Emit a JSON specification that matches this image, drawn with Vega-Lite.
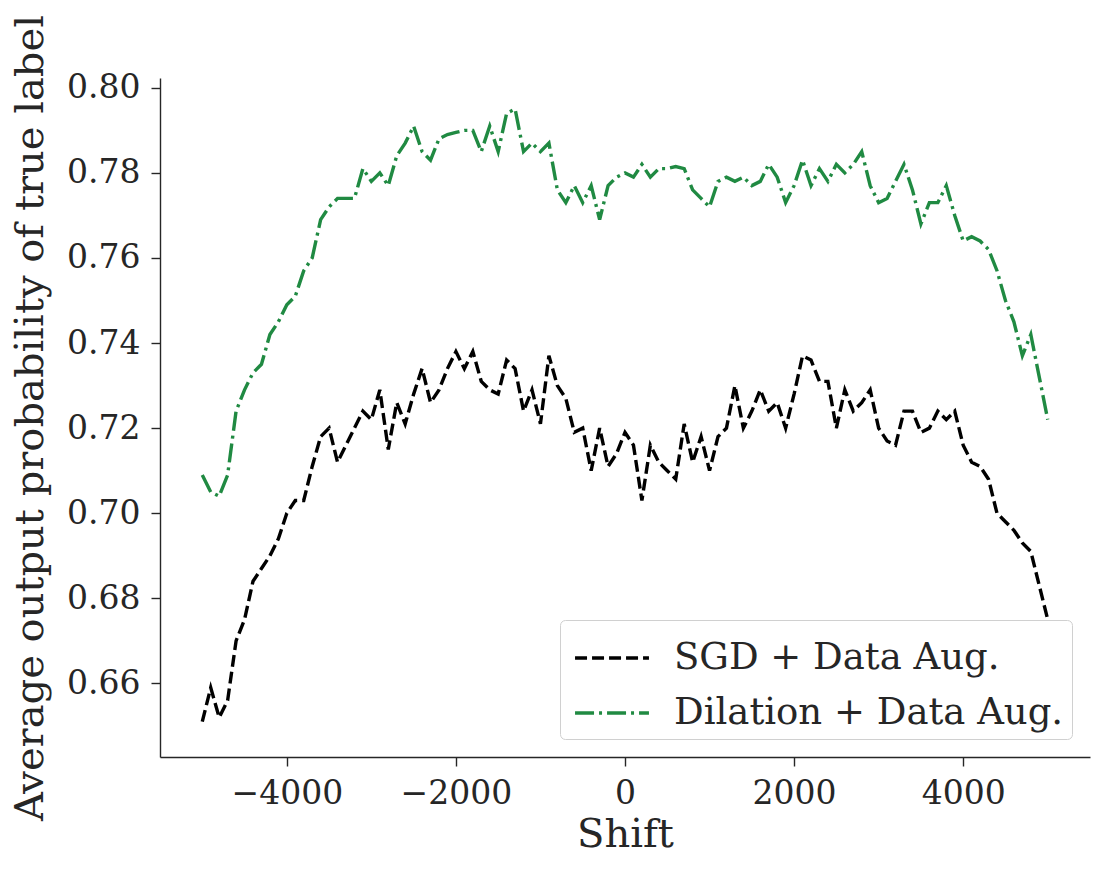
{
  "$schema": "https://vega.github.io/schema/vega-lite/v6.json",
  "width": 930,
  "height": 679,
  "autosize": "none",
  "padding": {"left": 160, "top": 78, "right": 15, "bottom": 114},
  "background": "white",
  "config": {
    "font": "DejaVu Serif",
    "view": {"stroke": null},
    "axis": {
      "grid": false,
      "domainColor": "#262626",
      "domainWidth": 1.4,
      "tickColor": "#262626",
      "tickWidth": 1.4,
      "tickSize": 9,
      "labelFontSize": 33,
      "labelColor": "#262626",
      "labelPadding": 11,
      "titleFontSize": 40,
      "titleFontWeight": "normal",
      "titleColor": "#262626"
    },
    "legend": {
      "orient": "bottom-right",
      "offset": 18,
      "fillColor": "white",
      "strokeColor": "#d0d0d0",
      "cornerRadius": 5,
      "padding": 8,
      "labelFontSize": 37,
      "labelColor": "#262626",
      "labelLimit": 0,
      "labelOffset": 46,
      "symbolType": "M-0.82,0H1.82",
      "symbolStrokeWidth": 3.4,
      "symbolSize": 3136,
      "rowPadding": 7
    }
  },
  "data": {
    "values": [
      {"x": -5000, "m": "SGD + Data Aug.", "y": 0.651},
      {"x": -4900, "m": "SGD + Data Aug.", "y": 0.659},
      {"x": -4800, "m": "SGD + Data Aug.", "y": 0.652},
      {"x": -4700, "m": "SGD + Data Aug.", "y": 0.656},
      {"x": -4600, "m": "SGD + Data Aug.", "y": 0.670},
      {"x": -4500, "m": "SGD + Data Aug.", "y": 0.675},
      {"x": -4400, "m": "SGD + Data Aug.", "y": 0.684},
      {"x": -4300, "m": "SGD + Data Aug.", "y": 0.687},
      {"x": -4200, "m": "SGD + Data Aug.", "y": 0.690},
      {"x": -4100, "m": "SGD + Data Aug.", "y": 0.694},
      {"x": -4000, "m": "SGD + Data Aug.", "y": 0.700},
      {"x": -3900, "m": "SGD + Data Aug.", "y": 0.703},
      {"x": -3800, "m": "SGD + Data Aug.", "y": 0.703},
      {"x": -3700, "m": "SGD + Data Aug.", "y": 0.711},
      {"x": -3600, "m": "SGD + Data Aug.", "y": 0.718},
      {"x": -3500, "m": "SGD + Data Aug.", "y": 0.720},
      {"x": -3400, "m": "SGD + Data Aug.", "y": 0.712},
      {"x": -3300, "m": "SGD + Data Aug.", "y": 0.716},
      {"x": -3200, "m": "SGD + Data Aug.", "y": 0.720},
      {"x": -3100, "m": "SGD + Data Aug.", "y": 0.724},
      {"x": -3000, "m": "SGD + Data Aug.", "y": 0.722},
      {"x": -2900, "m": "SGD + Data Aug.", "y": 0.729},
      {"x": -2800, "m": "SGD + Data Aug.", "y": 0.715},
      {"x": -2700, "m": "SGD + Data Aug.", "y": 0.726},
      {"x": -2600, "m": "SGD + Data Aug.", "y": 0.721},
      {"x": -2500, "m": "SGD + Data Aug.", "y": 0.728},
      {"x": -2400, "m": "SGD + Data Aug.", "y": 0.734},
      {"x": -2300, "m": "SGD + Data Aug.", "y": 0.726},
      {"x": -2200, "m": "SGD + Data Aug.", "y": 0.729},
      {"x": -2100, "m": "SGD + Data Aug.", "y": 0.734},
      {"x": -2000, "m": "SGD + Data Aug.", "y": 0.738},
      {"x": -1900, "m": "SGD + Data Aug.", "y": 0.734},
      {"x": -1800, "m": "SGD + Data Aug.", "y": 0.738},
      {"x": -1700, "m": "SGD + Data Aug.", "y": 0.731},
      {"x": -1600, "m": "SGD + Data Aug.", "y": 0.729},
      {"x": -1500, "m": "SGD + Data Aug.", "y": 0.728},
      {"x": -1400, "m": "SGD + Data Aug.", "y": 0.736},
      {"x": -1300, "m": "SGD + Data Aug.", "y": 0.734},
      {"x": -1200, "m": "SGD + Data Aug.", "y": 0.724},
      {"x": -1100, "m": "SGD + Data Aug.", "y": 0.729},
      {"x": -1000, "m": "SGD + Data Aug.", "y": 0.721},
      {"x": -900, "m": "SGD + Data Aug.", "y": 0.737},
      {"x": -800, "m": "SGD + Data Aug.", "y": 0.730},
      {"x": -700, "m": "SGD + Data Aug.", "y": 0.727},
      {"x": -600, "m": "SGD + Data Aug.", "y": 0.719},
      {"x": -500, "m": "SGD + Data Aug.", "y": 0.720},
      {"x": -400, "m": "SGD + Data Aug.", "y": 0.710},
      {"x": -300, "m": "SGD + Data Aug.", "y": 0.720},
      {"x": -200, "m": "SGD + Data Aug.", "y": 0.711},
      {"x": -100, "m": "SGD + Data Aug.", "y": 0.714},
      {"x": 0, "m": "SGD + Data Aug.", "y": 0.719},
      {"x": 100, "m": "SGD + Data Aug.", "y": 0.716},
      {"x": 200, "m": "SGD + Data Aug.", "y": 0.703},
      {"x": 300, "m": "SGD + Data Aug.", "y": 0.716},
      {"x": 400, "m": "SGD + Data Aug.", "y": 0.712},
      {"x": 500, "m": "SGD + Data Aug.", "y": 0.710},
      {"x": 600, "m": "SGD + Data Aug.", "y": 0.708},
      {"x": 700, "m": "SGD + Data Aug.", "y": 0.721},
      {"x": 800, "m": "SGD + Data Aug.", "y": 0.712},
      {"x": 900, "m": "SGD + Data Aug.", "y": 0.718},
      {"x": 1000, "m": "SGD + Data Aug.", "y": 0.710},
      {"x": 1100, "m": "SGD + Data Aug.", "y": 0.718},
      {"x": 1200, "m": "SGD + Data Aug.", "y": 0.720},
      {"x": 1300, "m": "SGD + Data Aug.", "y": 0.730},
      {"x": 1400, "m": "SGD + Data Aug.", "y": 0.720},
      {"x": 1500, "m": "SGD + Data Aug.", "y": 0.724},
      {"x": 1600, "m": "SGD + Data Aug.", "y": 0.729},
      {"x": 1700, "m": "SGD + Data Aug.", "y": 0.724},
      {"x": 1800, "m": "SGD + Data Aug.", "y": 0.726},
      {"x": 1900, "m": "SGD + Data Aug.", "y": 0.720},
      {"x": 2000, "m": "SGD + Data Aug.", "y": 0.728},
      {"x": 2100, "m": "SGD + Data Aug.", "y": 0.737},
      {"x": 2200, "m": "SGD + Data Aug.", "y": 0.736},
      {"x": 2300, "m": "SGD + Data Aug.", "y": 0.731},
      {"x": 2400, "m": "SGD + Data Aug.", "y": 0.731},
      {"x": 2500, "m": "SGD + Data Aug.", "y": 0.720},
      {"x": 2600, "m": "SGD + Data Aug.", "y": 0.729},
      {"x": 2700, "m": "SGD + Data Aug.", "y": 0.724},
      {"x": 2800, "m": "SGD + Data Aug.", "y": 0.726},
      {"x": 2900, "m": "SGD + Data Aug.", "y": 0.729},
      {"x": 3000, "m": "SGD + Data Aug.", "y": 0.720},
      {"x": 3100, "m": "SGD + Data Aug.", "y": 0.717},
      {"x": 3200, "m": "SGD + Data Aug.", "y": 0.716},
      {"x": 3300, "m": "SGD + Data Aug.", "y": 0.724},
      {"x": 3400, "m": "SGD + Data Aug.", "y": 0.724},
      {"x": 3500, "m": "SGD + Data Aug.", "y": 0.719},
      {"x": 3600, "m": "SGD + Data Aug.", "y": 0.720},
      {"x": 3700, "m": "SGD + Data Aug.", "y": 0.724},
      {"x": 3800, "m": "SGD + Data Aug.", "y": 0.722},
      {"x": 3900, "m": "SGD + Data Aug.", "y": 0.724},
      {"x": 4000, "m": "SGD + Data Aug.", "y": 0.716},
      {"x": 4100, "m": "SGD + Data Aug.", "y": 0.712},
      {"x": 4200, "m": "SGD + Data Aug.", "y": 0.711},
      {"x": 4300, "m": "SGD + Data Aug.", "y": 0.708},
      {"x": 4400, "m": "SGD + Data Aug.", "y": 0.700},
      {"x": 4500, "m": "SGD + Data Aug.", "y": 0.698},
      {"x": 4600, "m": "SGD + Data Aug.", "y": 0.696},
      {"x": 4700, "m": "SGD + Data Aug.", "y": 0.693},
      {"x": 4800, "m": "SGD + Data Aug.", "y": 0.691},
      {"x": 4900, "m": "SGD + Data Aug.", "y": 0.683},
      {"x": 5000, "m": "SGD + Data Aug.", "y": 0.675},
      {"x": -5000, "m": "Dilation + Data Aug.", "y": 0.709},
      {"x": -4900, "m": "Dilation + Data Aug.", "y": 0.705},
      {"x": -4800, "m": "Dilation + Data Aug.", "y": 0.704},
      {"x": -4700, "m": "Dilation + Data Aug.", "y": 0.709},
      {"x": -4600, "m": "Dilation + Data Aug.", "y": 0.724},
      {"x": -4500, "m": "Dilation + Data Aug.", "y": 0.729},
      {"x": -4400, "m": "Dilation + Data Aug.", "y": 0.733},
      {"x": -4300, "m": "Dilation + Data Aug.", "y": 0.735},
      {"x": -4200, "m": "Dilation + Data Aug.", "y": 0.742},
      {"x": -4100, "m": "Dilation + Data Aug.", "y": 0.745},
      {"x": -4000, "m": "Dilation + Data Aug.", "y": 0.749},
      {"x": -3900, "m": "Dilation + Data Aug.", "y": 0.751},
      {"x": -3800, "m": "Dilation + Data Aug.", "y": 0.757},
      {"x": -3700, "m": "Dilation + Data Aug.", "y": 0.760},
      {"x": -3600, "m": "Dilation + Data Aug.", "y": 0.769},
      {"x": -3500, "m": "Dilation + Data Aug.", "y": 0.772},
      {"x": -3400, "m": "Dilation + Data Aug.", "y": 0.774},
      {"x": -3300, "m": "Dilation + Data Aug.", "y": 0.774},
      {"x": -3200, "m": "Dilation + Data Aug.", "y": 0.774},
      {"x": -3100, "m": "Dilation + Data Aug.", "y": 0.781},
      {"x": -3000, "m": "Dilation + Data Aug.", "y": 0.778},
      {"x": -2900, "m": "Dilation + Data Aug.", "y": 0.780},
      {"x": -2800, "m": "Dilation + Data Aug.", "y": 0.777},
      {"x": -2700, "m": "Dilation + Data Aug.", "y": 0.784},
      {"x": -2600, "m": "Dilation + Data Aug.", "y": 0.787},
      {"x": -2500, "m": "Dilation + Data Aug.", "y": 0.791},
      {"x": -2400, "m": "Dilation + Data Aug.", "y": 0.785},
      {"x": -2300, "m": "Dilation + Data Aug.", "y": 0.783},
      {"x": -2200, "m": "Dilation + Data Aug.", "y": 0.788},
      {"x": -2100, "m": "Dilation + Data Aug.", "y": 0.789},
      {"x": -2000, "m": "Dilation + Data Aug.", "y": 0.7895},
      {"x": -1900, "m": "Dilation + Data Aug.", "y": 0.790},
      {"x": -1800, "m": "Dilation + Data Aug.", "y": 0.790},
      {"x": -1700, "m": "Dilation + Data Aug.", "y": 0.785},
      {"x": -1600, "m": "Dilation + Data Aug.", "y": 0.791},
      {"x": -1500, "m": "Dilation + Data Aug.", "y": 0.785},
      {"x": -1400, "m": "Dilation + Data Aug.", "y": 0.794},
      {"x": -1300, "m": "Dilation + Data Aug.", "y": 0.795},
      {"x": -1200, "m": "Dilation + Data Aug.", "y": 0.785},
      {"x": -1100, "m": "Dilation + Data Aug.", "y": 0.787},
      {"x": -1000, "m": "Dilation + Data Aug.", "y": 0.785},
      {"x": -900, "m": "Dilation + Data Aug.", "y": 0.787},
      {"x": -800, "m": "Dilation + Data Aug.", "y": 0.776},
      {"x": -700, "m": "Dilation + Data Aug.", "y": 0.773},
      {"x": -600, "m": "Dilation + Data Aug.", "y": 0.777},
      {"x": -500, "m": "Dilation + Data Aug.", "y": 0.773},
      {"x": -400, "m": "Dilation + Data Aug.", "y": 0.777},
      {"x": -300, "m": "Dilation + Data Aug.", "y": 0.769},
      {"x": -200, "m": "Dilation + Data Aug.", "y": 0.777},
      {"x": -100, "m": "Dilation + Data Aug.", "y": 0.779},
      {"x": 0, "m": "Dilation + Data Aug.", "y": 0.780},
      {"x": 100, "m": "Dilation + Data Aug.", "y": 0.779},
      {"x": 200, "m": "Dilation + Data Aug.", "y": 0.782},
      {"x": 300, "m": "Dilation + Data Aug.", "y": 0.779},
      {"x": 400, "m": "Dilation + Data Aug.", "y": 0.781},
      {"x": 500, "m": "Dilation + Data Aug.", "y": 0.781},
      {"x": 600, "m": "Dilation + Data Aug.", "y": 0.7815},
      {"x": 700, "m": "Dilation + Data Aug.", "y": 0.781},
      {"x": 800, "m": "Dilation + Data Aug.", "y": 0.776},
      {"x": 900, "m": "Dilation + Data Aug.", "y": 0.774},
      {"x": 1000, "m": "Dilation + Data Aug.", "y": 0.772},
      {"x": 1100, "m": "Dilation + Data Aug.", "y": 0.778},
      {"x": 1200, "m": "Dilation + Data Aug.", "y": 0.779},
      {"x": 1300, "m": "Dilation + Data Aug.", "y": 0.778},
      {"x": 1400, "m": "Dilation + Data Aug.", "y": 0.779},
      {"x": 1500, "m": "Dilation + Data Aug.", "y": 0.777},
      {"x": 1600, "m": "Dilation + Data Aug.", "y": 0.778},
      {"x": 1700, "m": "Dilation + Data Aug.", "y": 0.782},
      {"x": 1800, "m": "Dilation + Data Aug.", "y": 0.779},
      {"x": 1900, "m": "Dilation + Data Aug.", "y": 0.773},
      {"x": 2000, "m": "Dilation + Data Aug.", "y": 0.777},
      {"x": 2100, "m": "Dilation + Data Aug.", "y": 0.783},
      {"x": 2200, "m": "Dilation + Data Aug.", "y": 0.777},
      {"x": 2300, "m": "Dilation + Data Aug.", "y": 0.781},
      {"x": 2400, "m": "Dilation + Data Aug.", "y": 0.778},
      {"x": 2500, "m": "Dilation + Data Aug.", "y": 0.782},
      {"x": 2600, "m": "Dilation + Data Aug.", "y": 0.780},
      {"x": 2700, "m": "Dilation + Data Aug.", "y": 0.782},
      {"x": 2800, "m": "Dilation + Data Aug.", "y": 0.785},
      {"x": 2900, "m": "Dilation + Data Aug.", "y": 0.777},
      {"x": 3000, "m": "Dilation + Data Aug.", "y": 0.773},
      {"x": 3100, "m": "Dilation + Data Aug.", "y": 0.774},
      {"x": 3200, "m": "Dilation + Data Aug.", "y": 0.778},
      {"x": 3300, "m": "Dilation + Data Aug.", "y": 0.782},
      {"x": 3400, "m": "Dilation + Data Aug.", "y": 0.776},
      {"x": 3500, "m": "Dilation + Data Aug.", "y": 0.768},
      {"x": 3600, "m": "Dilation + Data Aug.", "y": 0.773},
      {"x": 3700, "m": "Dilation + Data Aug.", "y": 0.773},
      {"x": 3800, "m": "Dilation + Data Aug.", "y": 0.777},
      {"x": 3900, "m": "Dilation + Data Aug.", "y": 0.770},
      {"x": 4000, "m": "Dilation + Data Aug.", "y": 0.764},
      {"x": 4100, "m": "Dilation + Data Aug.", "y": 0.765},
      {"x": 4200, "m": "Dilation + Data Aug.", "y": 0.764},
      {"x": 4300, "m": "Dilation + Data Aug.", "y": 0.762},
      {"x": 4400, "m": "Dilation + Data Aug.", "y": 0.757},
      {"x": 4500, "m": "Dilation + Data Aug.", "y": 0.750},
      {"x": 4600, "m": "Dilation + Data Aug.", "y": 0.745},
      {"x": 4700, "m": "Dilation + Data Aug.", "y": 0.737},
      {"x": 4800, "m": "Dilation + Data Aug.", "y": 0.742},
      {"x": 4900, "m": "Dilation + Data Aug.", "y": 0.732},
      {"x": 5000, "m": "Dilation + Data Aug.", "y": 0.722}
    ]
  },
  "mark": {"type": "line", "strokeWidth": 3.4},
  "encoding": {
    "x": {
      "field": "x",
      "type": "quantitative",
      "title": "Shift",
      "scale": {"domain": [-5500, 5500], "nice": false, "zero": false},
      "axis": {"values": [-4000, -2000, 0, 2000, 4000], "format": "d", "titlePadding": 4}
    },
    "y": {
      "field": "y",
      "type": "quantitative",
      "title": "Average output probability of true label",
      "scale": {"domain": [0.6427, 0.8023], "nice": false, "zero": false},
      "axis": {"values": [0.66, 0.68, 0.70, 0.72, 0.74, 0.76, 0.78, 0.80], "format": ".2f", "titlePadding": 16}
    },
    "color": {
      "field": "m",
      "type": "nominal",
      "title": null,
      "scale": {"domain": ["SGD + Data Aug.", "Dilation + Data Aug."], "range": ["#000000", "#208a42"]}
    },
    "strokeDash": {
      "field": "m",
      "type": "nominal",
      "title": null,
      "scale": {"domain": ["SGD + Data Aug.", "Dilation + Data Aug."], "range": [[12, 5], [19, 5, 3, 5]]}
    }
  }
}
